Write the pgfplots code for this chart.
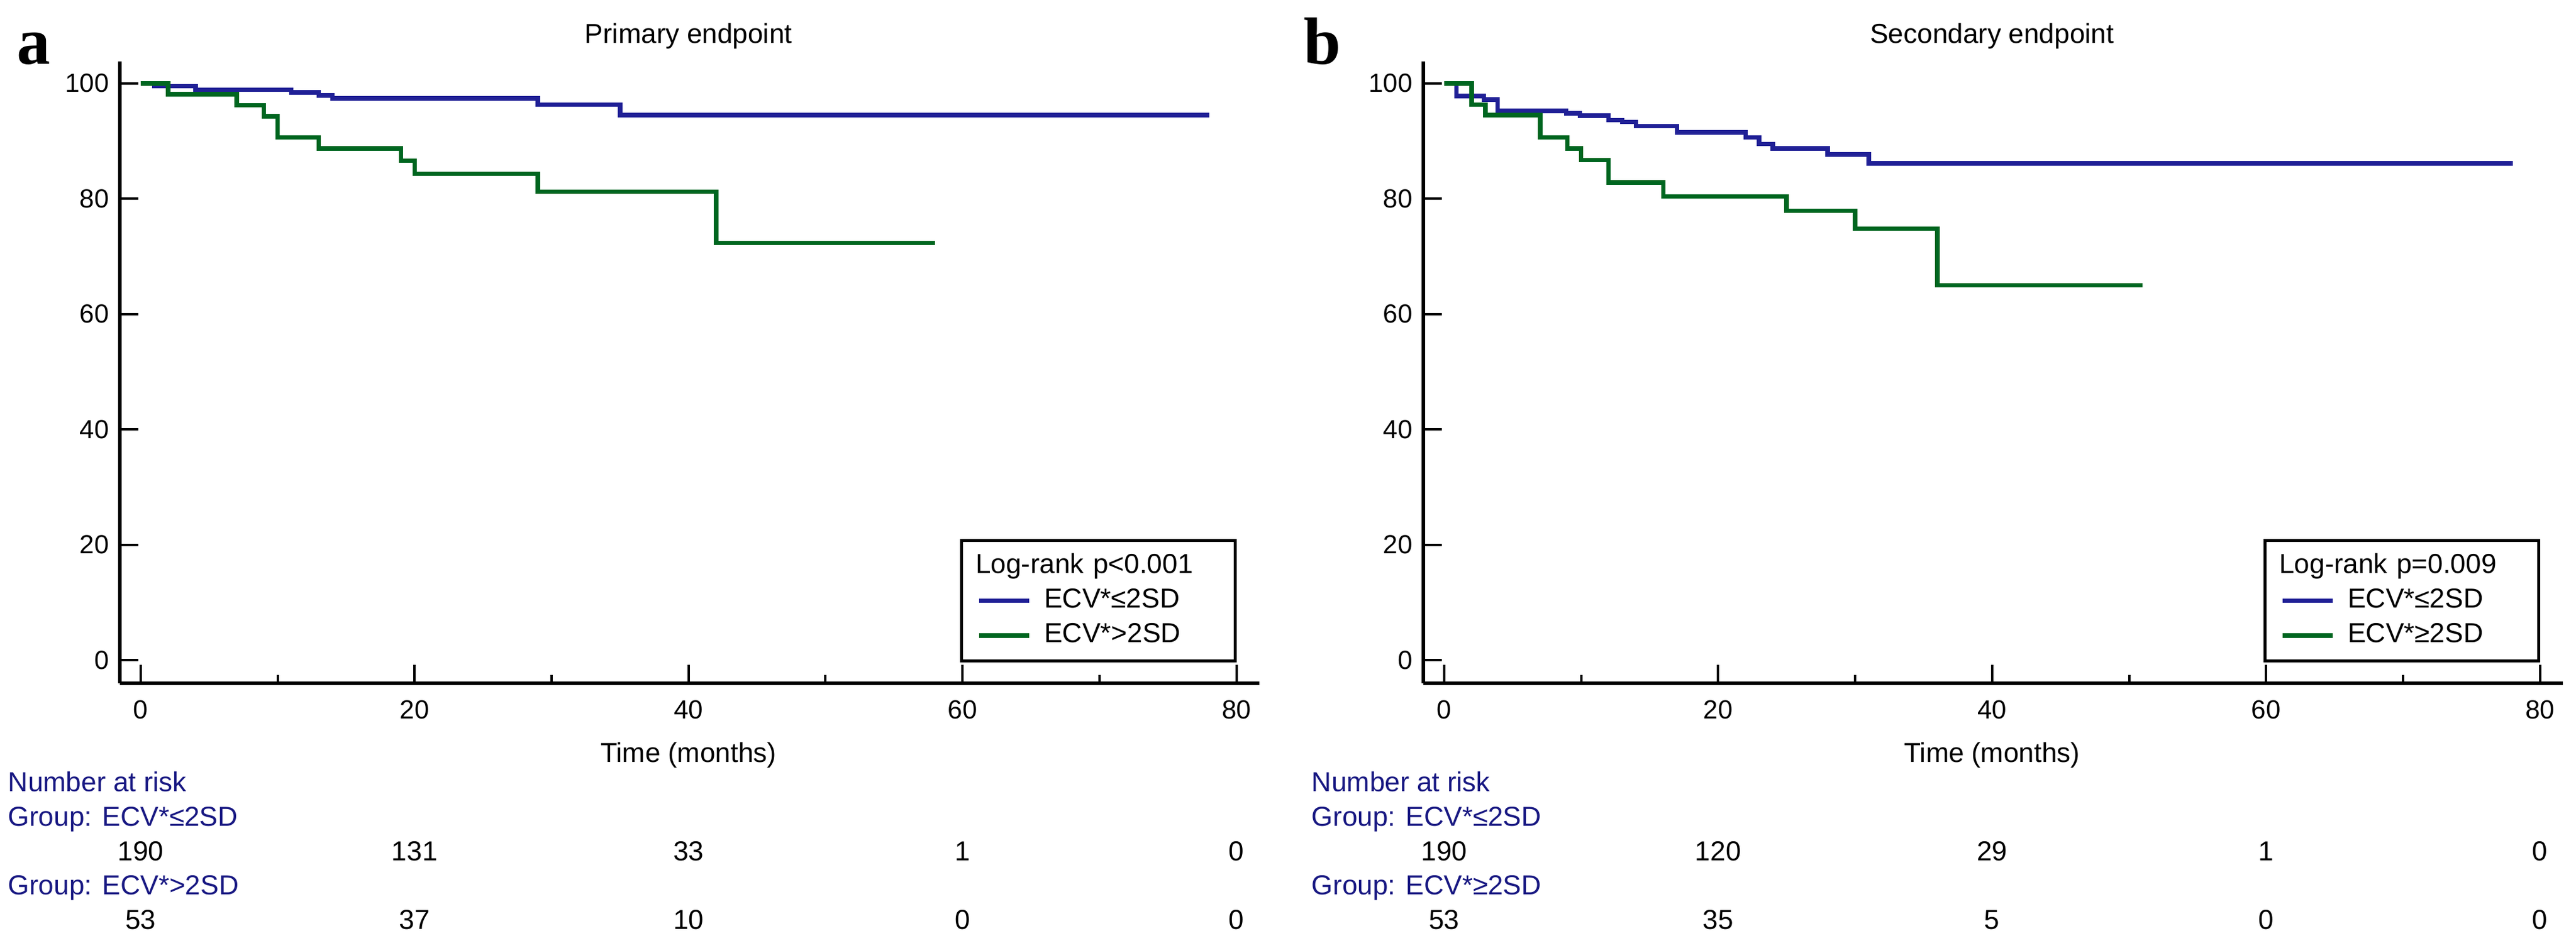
\documentclass[border=0pt]{standalone}
\usepackage{fontspec}
\setmainfont{Liberation Sans}
\newfontfamily\panelfont{Liberation Serif}
\usepackage{pgfplots}
\pgfplotsset{compat=1.18}

\definecolor{kmblue}{RGB}{32,32,150}
\definecolor{kmgreen}{RGB}{0,102,32}
\definecolor{riskblue}{RGB}{24,24,130}

\newcommand{\lbl}{\fontsize{11.5}{14}\selectfont}

\tikzset{txt/.style={font=\lbl, inner sep=0pt}}

\pgfplotsset{
  km/.style={
    scale only axis, width=477.75pt, height=260.75pt,
    xmin=-1.52, xmax=81.67, ymin=-4.03, ymax=103.8,
    axis x line*=bottom, axis y line*=left,
    axis line style={black, line width=1.5pt},
    xtick={0,20,40,60,80}, minor xtick={10,30,50,70},
    ytick={0,20,40,60,80,100},
    tick align=inside,
    major tick length=7.75pt, minor tick length=3.5pt,
    every tick/.append style={black, line width=1pt},
    tick label style={font=\fontsize{11}{13}\selectfont},
    /pgf/number format/assume math mode=true,
    xticklabel style={anchor=base, yshift=-14.75pt},
    yticklabel style={xshift=-1pt},
    clip=false,
    legend cell align=left,
    legend style={at={(0.9801,0.0336)}, anchor=south east,
      draw=black, line width=1.35pt, fill=white,
      inner xsep=6.5pt, inner ysep=4.6pt, row sep=2.6pt,
      font=\lbl,
      nodes={inner sep=0pt, text height=9pt, text depth=3pt, text width=73.5pt, align=left},
      /tikz/every odd column/.append style={column sep=5.25pt}},
    legend image code/.code={\draw[#1] (0pt,0pt) -- (21pt,0pt);},
  },
  blueline/.style={kmblue, line width=1.9pt, const plot},
  greenline/.style={kmgreen, line width=1.9pt, const plot},
}

\begin{document}
\begin{tikzpicture}

% panel a: primary endpoint
\begin{axis}[km, at={(50.25pt,110.75pt)}, anchor=south west]
\addlegendimage{empty legend}
\addlegendentry{\hspace*{-28.75pt}Log-rank p<0.001}
\addplot[blueline] coordinates {
  (0,100) (1,99.5) (4,98.9) (11,98.4) (13,97.9) (14,97.4) (29,96.3) (35,94.5) (78,94.5)};
\addlegendentry{ECV*≤2SD}
\addplot[greenline] coordinates {
  (0,100) (2,98.1) (7,96.2) (9,94.3) (10,90.6) (13,88.7) (19,86.6) (20,84.3) (29,81.2) (42,72.3) (58,72.3)};
\addlegendentry{ECV*>2SD}

\node[txt, anchor=base] at (axis cs:40,107.0) {Primary endpoint};
\node[txt, anchor=base] at (axis cs:40,-17.7) {Time (months)};
\node[inner sep=0pt, anchor=base west, font={\panelfont\bfseries\fontsize{28}{30}\selectfont}] at (axis cs:-9.06,103.3) {a};

\node[txt, riskblue, anchor=base west] at (axis cs:-9.7,-22.75) {Number at risk};
\node[txt, riskblue, anchor=base west] at (axis cs:-9.7,-28.75) {Group: ECV*≤2SD};
\node[txt, anchor=base] at (axis cs:0,-34.75) {190};
\node[txt, anchor=base] at (axis cs:20,-34.75) {131};
\node[txt, anchor=base] at (axis cs:40,-34.75) {33};
\node[txt, anchor=base] at (axis cs:60,-34.75) {1};
\node[txt, anchor=base] at (axis cs:80,-34.75) {0};
\node[txt, riskblue, anchor=base west] at (axis cs:-9.7,-40.64) {Group: ECV*>2SD};
\node[txt, anchor=base] at (axis cs:0,-46.64) {53};
\node[txt, anchor=base] at (axis cs:20,-46.64) {37};
\node[txt, anchor=base] at (axis cs:40,-46.64) {10};
\node[txt, anchor=base] at (axis cs:60,-46.64) {0};
\node[txt, anchor=base] at (axis cs:80,-46.64) {0};
\end{axis}

% panel b: secondary endpoint
\begin{axis}[km, at={(596.75pt,110.75pt)}, anchor=south west]
\addlegendimage{empty legend}
\addlegendentry{\hspace*{-28.75pt}Log-rank p=0.009}
\addplot[blueline] coordinates {
  (0,100) (0.9,97.8) (2.9,97.2) (3.9,95.2) (8.9,94.8) (9.9,94.4) (12,93.6) (13,93.3) (14,92.6)
  (17,91.5) (22,90.6) (23,89.5) (24,88.7) (28,87.7) (31,86.1) (78,86.1)};
\addlegendentry{ECV*≤2SD}
\addplot[greenline] coordinates {
  (0,100) (2,96.3) (3,94.5) (7,90.6) (9,88.7) (10,86.7) (12,82.8) (16,80.4) (25,77.9) (30,74.8) (36,65.0) (51,65.0)};
\addlegendentry{ECV*≥2SD}

\node[txt, anchor=base] at (axis cs:40,107.0) {Secondary endpoint};
\node[txt, anchor=base] at (axis cs:40,-17.7) {Time (months)};
\node[inner sep=0pt, anchor=base west, font={\panelfont\bfseries\fontsize{28}{30}\selectfont}] at (axis cs:-10.3,103.3) {b};

\node[txt, riskblue, anchor=base west] at (axis cs:-9.7,-22.75) {Number at risk};
\node[txt, riskblue, anchor=base west] at (axis cs:-9.7,-28.75) {Group: ECV*≤2SD};
\node[txt, anchor=base] at (axis cs:0,-34.75) {190};
\node[txt, anchor=base] at (axis cs:20,-34.75) {120};
\node[txt, anchor=base] at (axis cs:40,-34.75) {29};
\node[txt, anchor=base] at (axis cs:60,-34.75) {1};
\node[txt, anchor=base] at (axis cs:80,-34.75) {0};
\node[txt, riskblue, anchor=base west] at (axis cs:-9.7,-40.64) {Group: ECV*≥2SD};
\node[txt, anchor=base] at (axis cs:0,-46.64) {53};
\node[txt, anchor=base] at (axis cs:20,-46.64) {35};
\node[txt, anchor=base] at (axis cs:40,-46.64) {5};
\node[txt, anchor=base] at (axis cs:60,-46.64) {0};
\node[txt, anchor=base] at (axis cs:80,-46.64) {0};
\end{axis}

\pgfresetboundingbox
\path[use as bounding box] (0pt,0pt) rectangle (1080pt,397.25pt);
\end{tikzpicture}
\end{document}
